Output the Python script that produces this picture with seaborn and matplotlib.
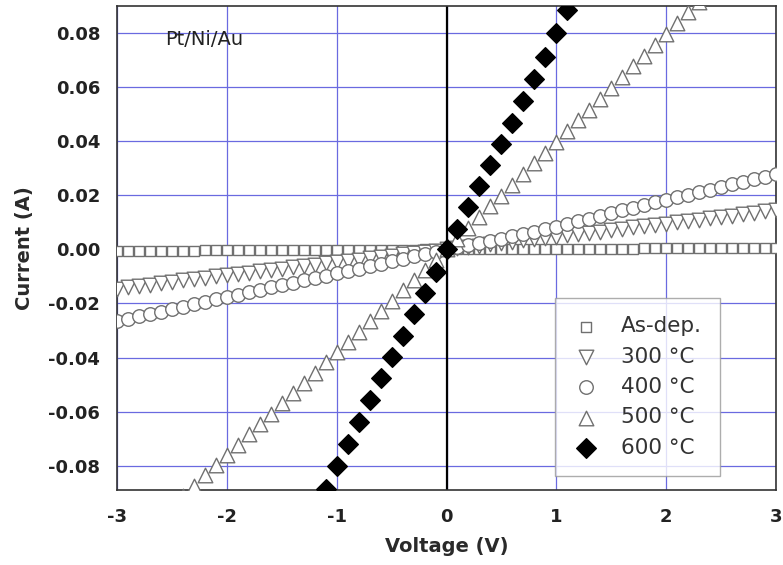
import matplotlib
matplotlib.use("Agg")
import matplotlib.pyplot as plt
import seaborn as sns
from matplotlib.ticker import MultipleLocator

# ---------------- data ----------------
V_all = [-3.0, -2.9, -2.8, -2.7, -2.6, -2.5, -2.4, -2.3, -2.2, -2.1,
         -2.0, -1.9, -1.8, -1.7, -1.6, -1.5, -1.4, -1.3, -1.2, -1.1,
         -1.0, -0.9, -0.8, -0.7, -0.6, -0.5, -0.4, -0.3, -0.2, -0.1,
         0.0, 0.1, 0.2, 0.3, 0.4, 0.5, 0.6, 0.7, 0.8, 0.9,
         1.0, 1.1, 1.2, 1.3, 1.4, 1.5, 1.6, 1.7, 1.8, 1.9,
         2.0, 2.1, 2.2, 2.3, 2.4, 2.5, 2.6, 2.7, 2.8, 2.9, 3.0]

I_asdep = [-0.0006, -0.0006, -0.0006, -0.0005, -0.0005, -0.0005, -0.0005, -0.0005, -0.0004, -0.0004,
           -0.0004, -0.0004, -0.0004, -0.0003, -0.0003, -0.0003, -0.0003, -0.0003, -0.0002, -0.0002,
           -0.0002, -0.0002, -0.0002, -0.0001, -0.0001, -0.0001, -0.0001, -0.0001, 0.0, 0.0,
           0.0, 0.0, 0.0, 0.0001, 0.0001, 0.0001, 0.0001, 0.0001, 0.0002, 0.0002,
           0.0002, 0.0002, 0.0002, 0.0003, 0.0003, 0.0003, 0.0003, 0.0003, 0.0004, 0.0004,
           0.0004, 0.0004, 0.0004, 0.0005, 0.0005, 0.0005, 0.0005, 0.0005, 0.0006, 0.0006, 0.0006]

I_300 = [-0.0145, -0.0140, -0.0135, -0.0130, -0.0125, -0.0120, -0.0115, -0.0110, -0.0105, -0.0100,
         -0.0095, -0.0090, -0.0086, -0.0081, -0.0076, -0.0071, -0.0066, -0.0062, -0.0057, -0.0052,
         -0.0047, -0.0043, -0.0038, -0.0033, -0.0028, -0.0024, -0.0019, -0.0014, -0.0009, -0.0005,
         0.0, 0.0005, 0.0009, 0.0014, 0.0019, 0.0023, 0.0028, 0.0033, 0.0038, 0.0042,
         0.0047, 0.0052, 0.0057, 0.0061, 0.0066, 0.0071, 0.0076, 0.0081, 0.0086, 0.0090,
         0.0095, 0.0100, 0.0105, 0.0110, 0.0115, 0.0120, 0.0125, 0.0130, 0.0135, 0.0140, 0.0145]

I_400 = [-0.0266, -0.0257, -0.0248, -0.0239, -0.0230, -0.0221, -0.0212, -0.0203, -0.0194, -0.0185,
         -0.0176, -0.0167, -0.0158, -0.0150, -0.0141, -0.0132, -0.0124, -0.0115, -0.0106, -0.0098,
         -0.0089, -0.0080, -0.0071, -0.0062, -0.0053, -0.0044, -0.0035, -0.0026, -0.0017, -0.0008,
         0.0, 0.0007, 0.0015, 0.0023, 0.0031, 0.0040, 0.0048, 0.0057, 0.0066, 0.0075,
         0.0084, 0.0094, 0.0104, 0.0114, 0.0124, 0.0134, 0.0144, 0.0154, 0.0164, 0.0174,
         0.0183, 0.0193, 0.0202, 0.0212, 0.0221, 0.0231, 0.0240, 0.0250, 0.0259, 0.0269, 0.0278]

V_500 = [-2.4, -2.3, -2.2, -2.1, -2.0, -1.9, -1.8, -1.7, -1.6, -1.5,
         -1.4, -1.3, -1.2, -1.1, -1.0, -0.9, -0.8, -0.7, -0.6, -0.5,
         -0.4, -0.3, -0.2, -0.1, 0.0, 0.1, 0.2, 0.3, 0.4, 0.5,
         0.6, 0.7, 0.8, 0.9, 1.0, 1.1, 1.2, 1.3, 1.4, 1.5,
         1.6, 1.7, 1.8, 1.9, 2.0, 2.1, 2.2, 2.3]
I_500 = [-0.0912, -0.0874, -0.0836, -0.0798, -0.0760, -0.0722, -0.0684, -0.0646, -0.0608, -0.0570,
         -0.0532, -0.0494, -0.0456, -0.0418, -0.0380, -0.0342, -0.0304, -0.0266, -0.0228, -0.0190,
         -0.0152, -0.0114, -0.0076, -0.0038, 0.0, 0.0040, 0.0080, 0.0119, 0.0159, 0.0199,
         0.0239, 0.0279, 0.0318, 0.0358, 0.0398, 0.0438, 0.0478, 0.0517, 0.0557, 0.0597,
         0.0637, 0.0677, 0.0716, 0.0756, 0.0796, 0.0836, 0.0876, 0.0915]

V_600 = [-1.1, -1.0, -0.9, -0.8, -0.7, -0.6, -0.5, -0.4, -0.3, -0.2, -0.1, 0.0,
         0.1, 0.2, 0.3, 0.4, 0.5, 0.6, 0.7, 0.8, 0.9, 1.0, 1.1]
I_600 = [-0.0885, -0.0803, -0.0721, -0.0639, -0.0558, -0.0474, -0.0398, -0.0320, -0.0240, -0.0163, -0.0085, 0.0,
         0.0074, 0.0156, 0.0236, 0.0312, 0.0390, 0.0469, 0.0550, 0.0630, 0.0711, 0.0800, 0.0886]

labels = ["As-dep.", "300 °C", "400 °C", "500 °C", "600 °C"]
x_ticks = [-3, -2, -1, 0, 1, 2, 3]
y_ticks = [-0.08, -0.06, -0.04, -0.02, 0.00, 0.02, 0.04, 0.06, 0.08]
annotation = "Pt/Ni/Au"

# ---------------- styling ----------------
sns.set_style("white")
plt.rcParams["font.family"] = ["DejaVu Sans"]

fig = plt.figure(figsize=(7.83, 5.65), dpi=100)
ax = fig.add_axes([117 / 783, 1 - 490 / 565, 659 / 783, 484 / 565])

grey = "#707070"
series = [
    (V_all, I_asdep, labels[0], "s", 55, "white", grey, 3),
    (V_all, I_300, labels[1], "v", 110, "white", grey, 4),
    (V_all, I_400, labels[2], "o", 95, "white", grey, 4),
    (V_500, I_500, labels[3], "^", 110, "white", grey, 5),
    (V_600, I_600, labels[4], "D", 100, "black", "black", 6),
]
for v, i, lab, mk, s, fc, ec, z in series:
    sns.scatterplot(x=v, y=i, marker=mk, s=s, facecolor=fc, edgecolor=ec,
                    linewidth=1.0, label=lab, ax=ax, zorder=z, clip_on=True)

ax.set_xlim(-3, 3)
ax.set_ylim(-0.089, 0.09)
ax.set_xticks(x_ticks)
ax.set_yticks(y_ticks)
ax.set_xticklabels([str(t) for t in x_ticks])
ax.set_yticklabels([f"{t:.2f}" for t in y_ticks])
ax.xaxis.set_minor_locator(MultipleLocator(0.5))
ax.yaxis.set_minor_locator(MultipleLocator(0.01))

ax.grid(True, which="major", color="#6a6ae0", linewidth=0.9, zorder=0)
ax.set_axisbelow(True)
ax.axvline(0, color="black", linewidth=1.6, zorder=2)

for sp in ax.spines.values():
    sp.set_color("#333333")
    sp.set_linewidth(1.2)

ax.tick_params(axis="x", which="major", direction="out", length=7, width=1.1,
               colors="#333333", labelcolor="#222222", labelsize=13, pad=6)
ax.tick_params(axis="x", which="minor", direction="out", length=4, width=1.0, colors="#333333")
ax.tick_params(axis="y", which="major", direction="in", length=7, width=1.1,
               colors="#333333", labelcolor="#222222", labelsize=13, pad=12)
ax.tick_params(axis="y", which="minor", direction="in", length=4, width=1.0, colors="#333333")
for lab in ax.get_xticklabels() + ax.get_yticklabels():
    lab.set_fontweight("bold")

ax.set_xlabel("Voltage (V)", fontsize=14, color="#2a2a2a", labelpad=8, fontweight="bold")
ax.set_ylabel("Current (A)", fontsize=14, color="#2a2a2a", labelpad=10, fontweight="bold")

ax.text(0.073, 0.93, annotation, transform=ax.transAxes, fontsize=14,
        color="#222222", ha="left", va="center")

leg = ax.legend(loc="lower left", bbox_to_anchor=(0.665, 0.029), frameon=True,
                fancybox=False, fontsize=15.5, labelspacing=0.48, handletextpad=1.0,
                borderpad=0.85, handlelength=1.2, borderaxespad=0)
leg.get_frame().set_edgecolor("#999999")
leg.get_frame().set_linewidth(1.0)
for t in leg.get_texts():
    t.set_color("#333333")

fig.savefig("out.png", dpi=100)
